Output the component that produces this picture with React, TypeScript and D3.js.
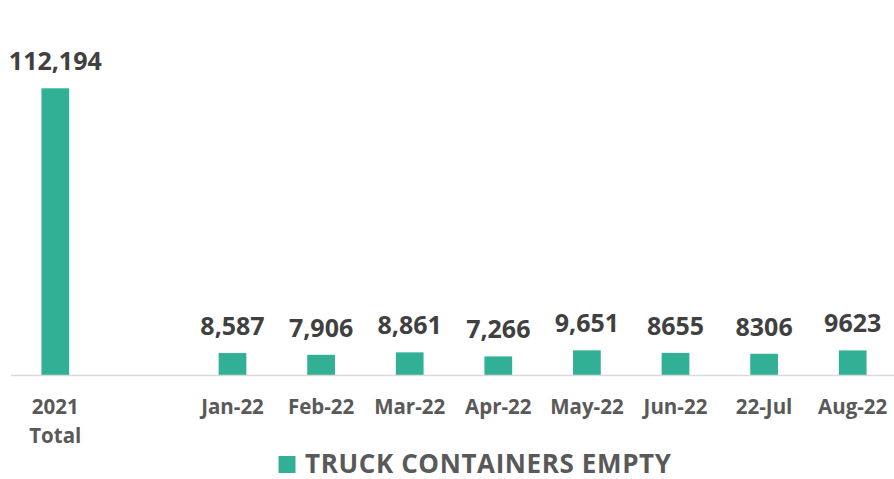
import React, { useEffect, useRef } from "react";
import * as d3 from "d3";

const categories = ["2021 Total", "", "Jan-22", "Feb-22", "Mar-22", "Apr-22", "May-22", "Jun-22", "22-Jul", "Aug-22"];
const values: (number | null)[] = [112194, null, 8587, 7906, 8861, 7266, 9651, 8655, 8306, 9623];
const valueLabels = ["112,194", "", "8,587", "7,906", "8,861", "7,266", "9,651", "8655", "8306", "9623"];
const seriesName = "TRUCK CONTAINERS EMPTY";

const W = 894;
const H = 479;
const barColor = "#31b095";
const font = "'Open Sans', sans-serif";

const App = () => {
  const svgRef = useRef<SVGSVGElement>(null);

  useEffect(() => {
    const svg = d3.select(svgRef.current);
    svg.selectAll("*").remove();

    const left = 11;
    const right = 897;
    const baseline = 375;
    const top = 88.3;

    const x = d3
      .scaleBand()
      .domain(categories.map((c, i) => String(i)))
      .range([left, right])
      .paddingInner(0.687)
      .paddingOuter(0.3435);

    const y = d3
      .scaleLinear()
      .domain([0, d3.max(values, (d) => d ?? 0) as number])
      .range([baseline, top]);

    const data = categories.map((c, i) => ({ key: String(i), cat: c, v: values[i], label: valueLabels[i] }));
    const withVal = data.filter((d) => d.v != null);

    // bars
    svg
      .selectAll(".bar")
      .data(withVal)
      .enter()
      .append("rect")
      .attr("class", "bar")
      .attr("x", (d) => x(d.key)!)
      .attr("y", (d) => y(d.v!))
      .attr("width", x.bandwidth())
      .attr("height", (d) => baseline - y(d.v!))
      .attr("fill", barColor);

    // axis line
    svg
      .append("line")
      .attr("x1", left)
      .attr("x2", right)
      .attr("y1", baseline + 0.5)
      .attr("y2", baseline + 0.5)
      .attr("stroke", "#d9d9d9")
      .attr("stroke-width", 1.5);

    // value labels
    svg
      .selectAll(".val")
      .data(withVal)
      .enter()
      .append("text")
      .attr("class", "val")
      .attr("x", (d) => x(d.key)! + x.bandwidth() / 2)
      .attr("y", (d) => y(d.v!) - 18)
      .attr("text-anchor", "middle")
      .style("font-family", font)
      .style("font-weight", "bold")
      .style("font-size", "25px")
      .attr("fill", "#404040")
      .text((d) => d.label);

    // category labels
    const cat = svg
      .selectAll(".cat")
      .data(data.filter((d) => d.cat !== ""))
      .enter()
      .append("text")
      .attr("class", "cat")
      .attr("x", (d) => x(d.key)! + x.bandwidth() / 2)
      .attr("y", 413.5)
      .attr("text-anchor", "middle")
      .style("font-family", font)
      .style("font-weight", "bold")
      .style("font-size", "20.5px")
      .attr("fill", "#595959");

    cat.each(function (d) {
      const words = d.cat.split(" ");
      const el = d3.select(this);
      const cx = x(d.key)! + x.bandwidth() / 2;
      words.forEach((w, i) => {
        el.append("tspan").attr("x", cx).attr("dy", i === 0 ? 0 : 29).text(w);
      });
    });

    // legend
    const lg = svg.append("g");
    lg.append("rect")
      .attr("x", 278.5)
      .attr("y", 456)
      .attr("width", 17)
      .attr("height", 17)
      .attr("fill", barColor);
    lg.append("text")
      .attr("x", 305)
      .attr("y", 472.5)
      .attr("textLength", 366)
      .attr("lengthAdjust", "spacing")
      .style("font-family", font)
      .style("font-weight", "bold")
      .style("font-size", "26px")
      .attr("fill", "#595959")
      .text(seriesName);
  }, []);

  return (
    <svg
      ref={svgRef}
      width={W}
      height={H}
      style={{ position: "absolute", left: 0, top: 0, background: "#fff" }}
    />
  );
};

export default App;
